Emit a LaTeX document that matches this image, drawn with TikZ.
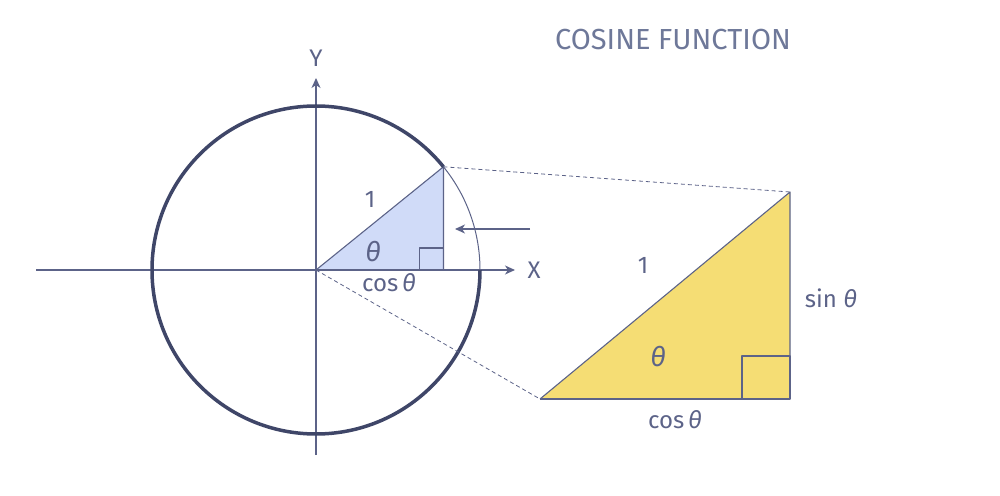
\documentclass[tikz,border=0pt]{standalone}
\usepackage{fontspec}
\setmainfont{Fira Sans}
\usetikzlibrary{calc, arrows.meta}
\definecolor{Navy}{HTML}{3F4668}
\definecolor{AxisBlue}{HTML}{5C6388}
\definecolor{TitleBlue}{HTML}{6E7899}
\definecolor{LightBlue}{HTML}{D0DBF8}
\definecolor{Yellow}{HTML}{F5DD74}

\begin{document}
\begin{tikzpicture}[x=1pt, y=1pt, line join=round,
    thin line/.style={AxisBlue, line width=1.1pt},
    label text/.style={AxisBlue, font=\fontsize{24}{26}\selectfont, inner sep=0pt}]
    \useasboundingbox (0,0) rectangle (1000,495);
    \coordinate (O) at (316,225);
    \coordinate (P) at ($(O)+(39:164)$);
    \coordinate (F) at (P |- O);
    \fill[LightBlue] (O) -- (F) -- (P) -- cycle;
    \draw[thin line] (O) -- (P) -- (F);
    \draw[thin line] ($(F)+(-24,0)$) rectangle ($(F)+(0,22)$);
    % axes
    \draw[thin line, -{Stealth[length=10pt, width=9pt, inset=3pt]}] (36,225) -- (515,225);
    \draw[thin line, -{Stealth[length=10pt, width=9pt, inset=3pt]}] (316,40) -- (316,417);
    \node[label text] (xlabel) at (534,225) {X};
    \node[label text] (ylabel) at (316,437) {Y};
    % circle
    \draw[Navy, line width=3.5pt] ($(O)+(0:164)$) arc (0:-321:164);
    \draw[AxisBlue, line width=1pt] ($(O)+(0:164)$) arc (0:39:164);
    \draw[thin line, -{Stealth[length=10pt, width=9pt, inset=3pt]}] (530,266) -- (455,266);
    \node[label text] (one) at (370,296) {1};
    \node[label text, font=\fontsize{27}{29}\selectfont] (theta) at (373,243) {\textit{θ}};
    \node[label text] (cos) at (389,212) {cos\,\textit{θ}};
    % yellow triangle
    \coordinate (A) at (540,96);
    \coordinate (B) at (790,96);
    \coordinate (C) at (790,303);
    \draw[AxisBlue, dashed, line width=0.8pt, dash pattern=on 4pt off 3pt] (P) -- (C);
    \draw[AxisBlue, dashed, line width=0.8pt, dash pattern=on 4pt off 3pt] (O) -- (A);
    \fill[Yellow] (A) -- (B) -- (C) -- cycle;
    \draw[thin line] (A) -- (C) -- (B);
    \draw[thin line] ($(B)+(-48,0)$) rectangle ($(B)+(0,43)$);
    \draw[thin line] (A) -- (B);
    \node[label text] (one2) at (643,230) {1};
    \node[label text, font=\fontsize{27}{29}\selectfont] (theta2) at (658,138) {\textit{θ}};
    \node[label text] (sin2) at (831,197) {sin \textit{θ}};
    \node[label text] (cos2) at (675,75) {cos\,\textit{θ}};
    \node[TitleBlue, font=\fontsize{29}{31}\selectfont, inner sep=0pt] (title) at (673,455) {COSINE FUNCTION};
\end{tikzpicture}
\end{document}
